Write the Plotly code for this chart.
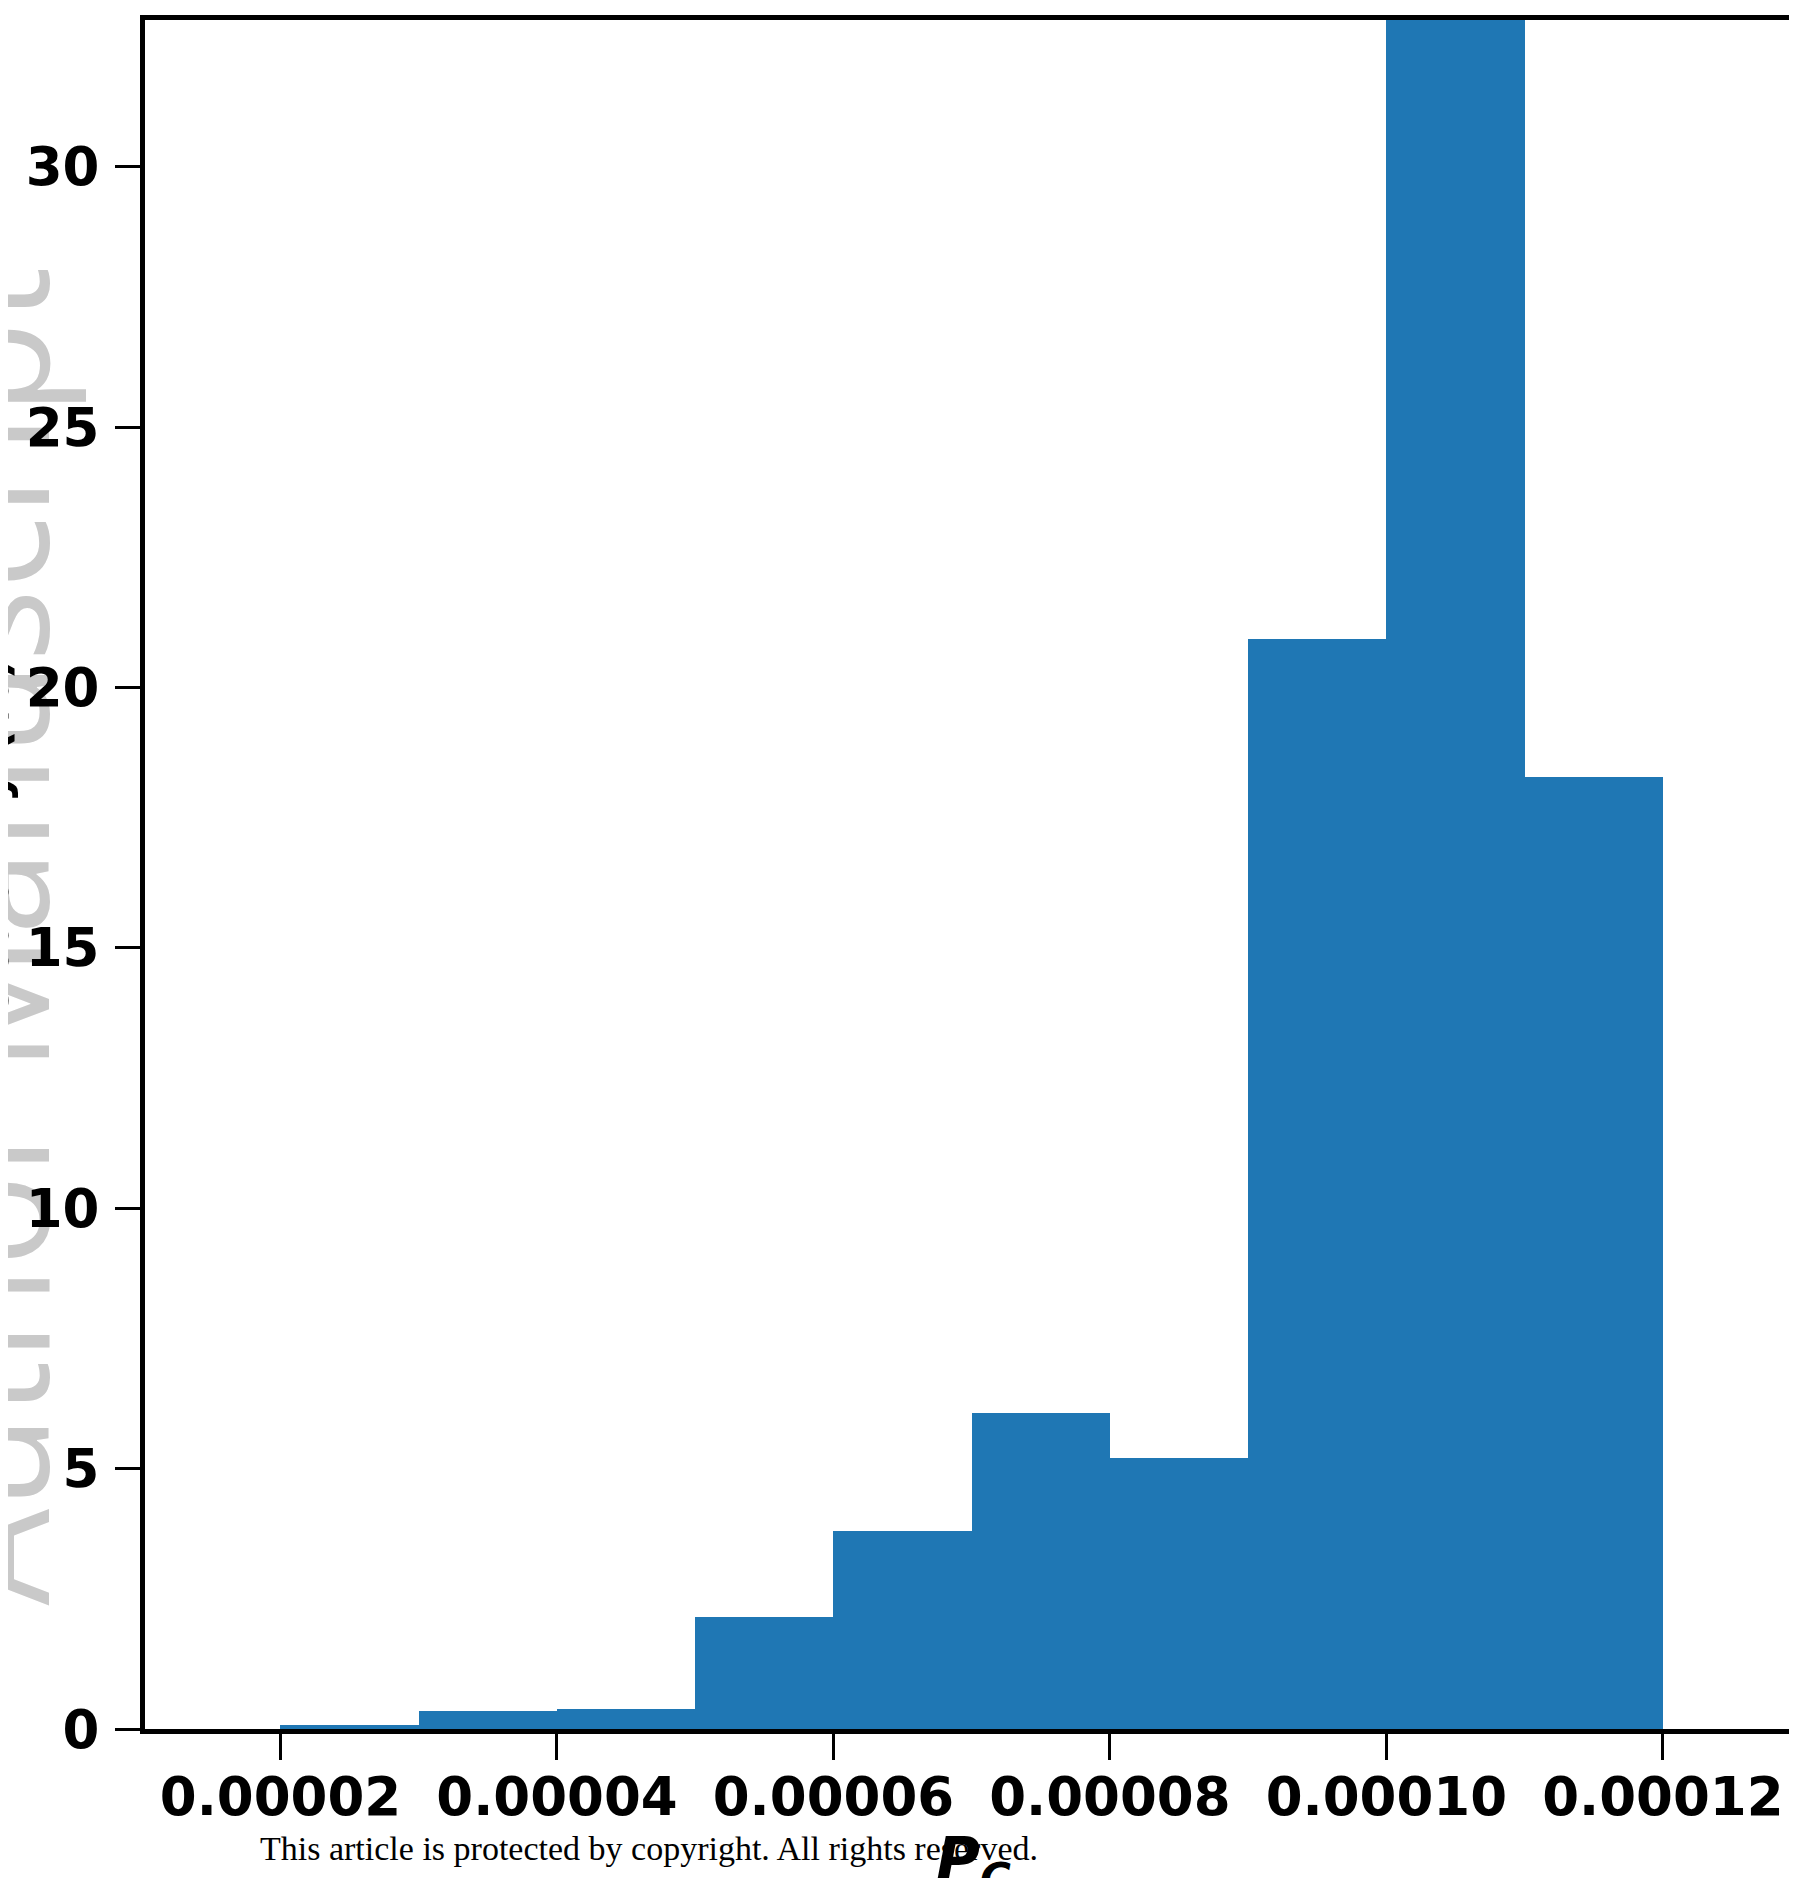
import plotly.graph_objects as go

# ---- data ----
bin_edges = [0.00002, 0.00003, 0.00004, 0.00005, 0.00006, 0.00007,
             0.00008, 0.00009, 0.00010, 0.00011, 0.00012]
probability = [0.08, 0.35, 0.385, 2.16, 3.80, 6.06, 5.20, 20.93, 42.75, 18.28]
x_tick_vals = [0.00002, 0.00004, 0.00006, 0.00008, 0.00010, 0.00012]
x_tick_text = ["0.00002", "0.00004", "0.00006", "0.00008", "0.00010", "0.00012"]
y_tick_vals = [0, 5, 10, 15, 20, 25, 30]
y_tick_text = ["0", "5", "10", "15", "20", "25", "30"]
x_limits = [0.0000102, 0.0001297]
y_limits = [0, 32.82]

centers = [(a + b) / 2 for a, b in zip(bin_edges[:-1], bin_edges[1:])]
widths = [b - a for a, b in zip(bin_edges[:-1], bin_edges[1:])]

OFF = 8  # default page body margin
W, H = 1789, 1870
L, R, T, B = 137, 0, 12, 149
PW = W - L - R
PH = H - T - B

fig = go.Figure()
fig.add_trace(go.Bar(
    x=centers, y=probability, width=widths,
    marker=dict(color="#1f77b4", line=dict(width=0)),
    showlegend=False, hoverinfo="skip",
))

tick_font = dict(family="DejaVu Sans", size=53, color="black", weight="bold")

fig.update_layout(
    width=W, height=H,
    margin=dict(l=L, r=R, t=T, b=B, pad=0),
    plot_bgcolor="white", paper_bgcolor="white",
    bargap=0,
    xaxis=dict(
        range=x_limits, tickmode="array",
        tickvals=x_tick_vals, ticktext=x_tick_text,
        ticks="outside", ticklen=26, tickwidth=3, tickcolor="black",
        showline=True, linewidth=5, linecolor="black", mirror=True,
        showgrid=False, zeroline=False, tickfont=tick_font,
        ticklabelstandoff=-9,
    ),
    yaxis=dict(
        range=y_limits, tickmode="array",
        tickvals=y_tick_vals, ticktext=y_tick_text,
        ticks="outside", ticklen=25, tickwidth=3, tickcolor="black",
        showline=True, linewidth=5, linecolor="black", mirror=False,
        showgrid=False, zeroline=False, tickfont=tick_font,
        ticklabelstandoff=5,
    ),
)

def px_x(p):  # page pixel -> paper x
    return (p - OFF - L) / PW

def px_y(p):  # page pixel -> paper y
    return 1 - (p - OFF - T) / PH

# watermark (drawn below the axis tick labels, via an invisible shape's label)
fig.add_shape(
    type="rect", xref="paper", yref="paper", layer="below",
    x0=px_x(-200), x1=px_x(200), y0=px_y(936 + 200), y1=px_y(936 - 200),
    line=dict(width=0), fillcolor="rgba(0,0,0,0)",
    label=dict(
        text="Author Manuscript", textangle=-90, textposition="middle center",
        font=dict(family="Open Sans", size=153, color="#c9c9c9", weight=400),
    ),
)
# y axis label (mostly cut off at the left edge)
fig.add_annotation(
    text="<b>Probability (%)</b>", textangle=-90,
    xref="paper", yref="paper", x=px_x(-9), y=px_y(868),
    xanchor="center", yanchor="middle", showarrow=False,
    font=dict(family="DejaVu Sans", size=50, color="black"),
)
# footer
fig.add_annotation(
    text="This article is protected by copyright. All rights reserved.",
    xref="paper", yref="paper", x=px_x(649), y=px_y(1848),
    xanchor="center", yanchor="middle", showarrow=False,
    font=dict(family="Liberation Serif", size=34, color="black"),
)
# x axis label (cut off at the bottom)
fig.add_annotation(
    text="<b><i>P</i></b><sub><b><i>C</i></b></sub>",
    xref="paper", yref="paper", x=px_x(974), y=px_y(1822),
    xanchor="center", yanchor="top", showarrow=False,
    font=dict(family="DejaVu Sans", size=60, color="black"),
)

fig.write_html("out.html")
